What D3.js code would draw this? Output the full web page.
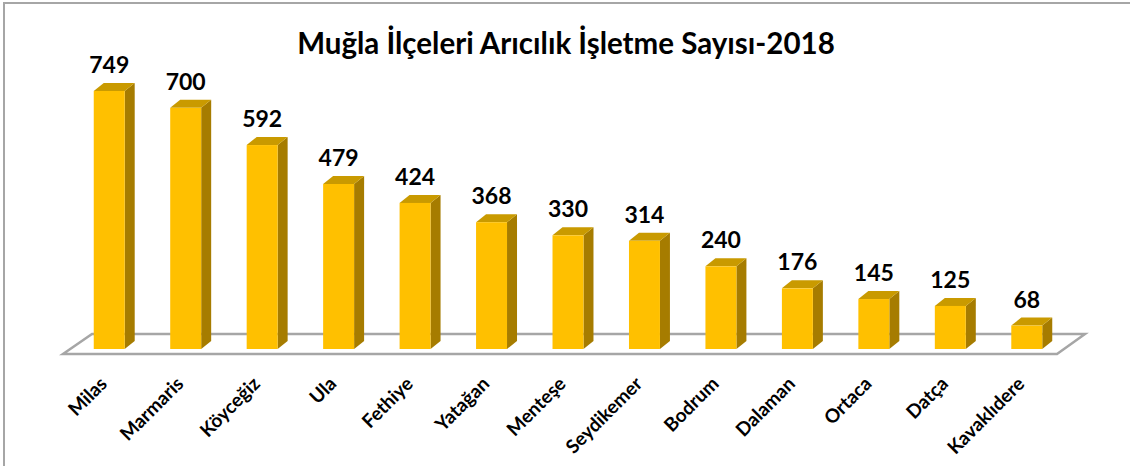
<!DOCTYPE html>
<html>
<head>
<meta charset="utf-8">
<script src="https://cdn.jsdelivr.net/npm/d3@7"></script>
<style>
  body { margin: 0; background: #fff; }
  text { font-family: Lato, "Open Sans", sans-serif; font-weight: bold; fill: #000; }
</style>
</head>
<body>
<div class="main"></div>
<script>
//// Data
const districts = ['Milas', 'Marmaris', 'Köyceğiz', 'Ula', 'Fethiye', 'Yatağan', 'Menteşe',
  'Seydikemer', 'Bodrum', 'Dalaman', 'Ortaca', 'Datça', 'Kavaklıdere'];
const counts = [749, 700, 592, 479, 424, 368, 330, 314, 240, 176, 145, 125, 68];
const titleText = 'Muğla İlçeleri Arıcılık İşletme Sayısı-2018';

//// Global Variables
const width = 1130;
const height = 466;
const baseY = 349;
const depthX = 10;
const depthY = 8;

const svg = d3.select('.main').append('svg')
  .attr('width', width)
  .attr('height', height);

// chart frame
svg.append('rect')
  .attr('x', 4).attr('y', 3)
  .attr('width', width + 10).attr('height', height + 10)
  .attr('fill', 'none')
  .attr('stroke', '#a6a6a6')
  .attr('stroke-width', 2);

svg.append('text')
  .attr('x', 566).attr('y', 54)
  .attr('text-anchor', 'middle')
  .attr('font-size', 29.5)
  .text(titleText);

//// Scales
const xScale = d3.scaleBand().domain(districts).range([71, 1065]);
const yScale = d3.scaleLinear().domain([0, 800]).range([baseY, 73.4]);
const barW = xScale.bandwidth() * 0.405;
const cx = d => xScale(d) + xScale.bandwidth() / 2;

//// Floor
const floor = [[63, 354], [1057, 354], [1085, 334], [92, 334]];
svg.append('path')
  .attr('d', d3.line()(floor) + 'Z')
  .attr('fill', '#fff')
  .attr('stroke', '#a6a6a6')
  .attr('stroke-width', 2.5)
  .attr('stroke-linejoin', 'miter');

//// Bars
const data = districts.map((d, i) => ({ name: d, value: counts[i] }));
const bars = svg.selectAll('g.bar').data(data).enter().append('g').attr('class', 'bar');

// side face
bars.append('path')
  .attr('d', d => {
    const x = cx(d.name) + barW / 2, y = yScale(d.value);
    return `M${x},${baseY}L${x},${y}L${x + depthX},${y - depthY}L${x + depthX},${baseY - depthY}Z`;
  })
  .attr('fill', '#a67c00');

// top face
bars.append('path')
  .attr('d', d => {
    const x = cx(d.name) - barW / 2, y = yScale(d.value);
    return `M${x},${y}L${x + barW},${y}L${x + barW + depthX},${y - depthY}L${x + depthX},${y - depthY}Z`;
  })
  .attr('fill', '#c99a00');

// front face
bars.append('rect')
  .attr('x', d => cx(d.name) - barW / 2)
  .attr('y', d => yScale(d.value))
  .attr('width', barW)
  .attr('height', d => baseY - yScale(d.value))
  .attr('fill', '#ffc000');

// value labels
bars.append('text')
  .attr('x', d => cx(d.name))
  .attr('y', d => yScale(d.value) - 18)
  .attr('text-anchor', 'middle')
  .attr('font-size', 23)
  .text(d => d.value);

// category labels
bars.append('text')
  .attr('text-anchor', 'end')
  .attr('font-size', 19)
  .attr('transform', d => `translate(${cx(d.name) - 1},${385}) rotate(-45)`)
  .text(d => d.name);
</script>
</body>
</html>
